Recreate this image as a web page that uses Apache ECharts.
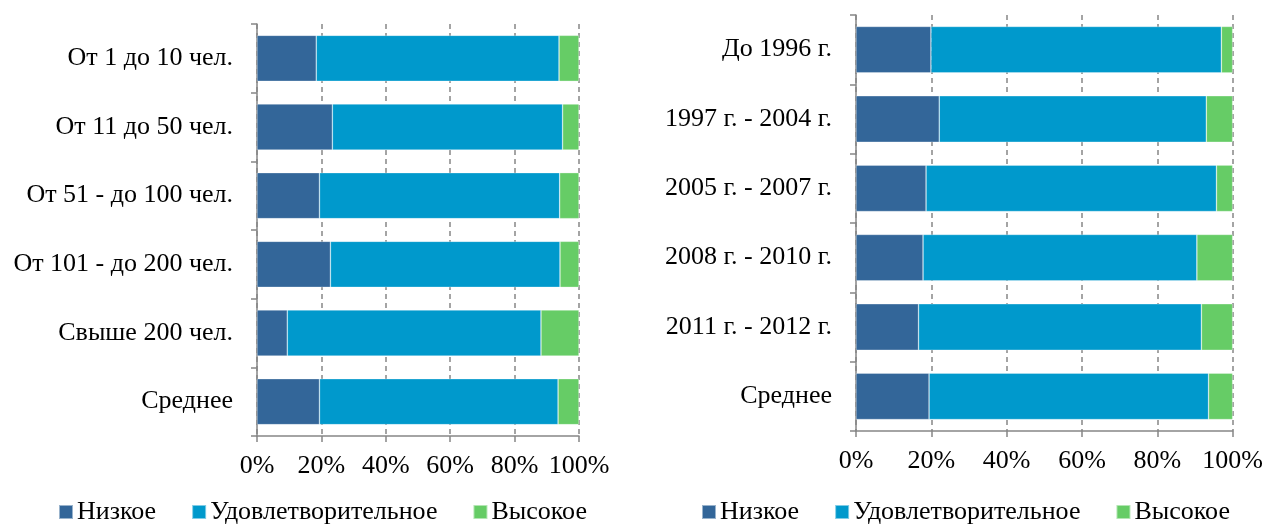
<!DOCTYPE html>
<html>
<head>
<meta charset="utf-8">
<style>
  html, body { margin: 0; padding: 0; background: #fff; }
  #chart-container { width: 1266px; height: 525px; }
</style>
<script src="https://cdn.jsdelivr.net/npm/echarts@6/dist/echarts.min.js"></script>
</head>
<body>
<div id="chart-container"></div>
<script>
// данные (в процентах)
var seriesNames = ['Низкое', 'Удовлетворительное', 'Высокое'];

var sizeCategories = ['От 1 до 10 чел.', 'От 11 до 50 чел.', 'От 51 - до 100 чел.', 'От 101 - до 200 чел.', 'Свыше 200 чел.', 'Среднее'];
var sizeLow = [18.4, 23.4, 19.4, 22.8, 9.4, 19.4];
var sizeMid = [75.4, 71.5, 74.6, 71.3, 78.8, 74.1];
var sizeHigh = [6.2, 5.1, 6.0, 5.9, 11.8, 6.5];

var yearCategories = ['До 1996 г.', '1997 г. - 2004 г.', '2005 г. - 2007 г.', '2008 г. - 2010 г.', '2011 г. - 2012 г.', 'Среднее'];
var yearLow = [19.9, 22.1, 18.6, 17.8, 16.6, 19.4];
var yearMid = [77.1, 70.9, 77.1, 72.7, 75.1, 74.2];
var yearHigh = [3.0, 7.0, 4.3, 9.5, 8.3, 6.4];

var colors = ['#336699', '#0099cc', '#66cc66'];

var dom = document.getElementById('chart-container');
var myChart = echarts.init(dom, null, { renderer: 'canvas' });

var font = 'Liberation Serif';
var axisGray = '#868686';

function xAxisFor(gridIndex) {
  return {
    gridIndex: gridIndex,
    type: 'value',
    min: 0,
    max: 100,
    interval: 20,
    axisLine: { show: true, lineStyle: { color: axisGray, width: 1.5 } },
    axisTick: { show: true, length: 6, lineStyle: { color: axisGray, width: 1.5 } },
    axisLabel: {
      formatter: '{value}%',
      color: '#000',
      fontFamily: font,
      fontSize: 26,
      margin: 17
    },
    splitLine: { show: true, lineStyle: { color: axisGray, type: [5, 4], width: 1.5 } }
  };
}

function yAxisFor(gridIndex, cats) {
  return {
    gridIndex: gridIndex,
    type: 'category',
    inverse: true,
    data: cats,
    axisLine: { show: true, lineStyle: { color: axisGray, width: 1.5 } },
    axisTick: { show: true, length: 6, lineStyle: { color: axisGray, width: 1.5 } },
    axisLabel: {
      color: '#000',
      fontFamily: font,
      fontSize: 26,
      margin: 24
    }
  };
}

function barSeries(name, idx, axisIndex, data) {
  return {
    name: name,
    type: 'bar',
    stack: 'total' + axisIndex,
    xAxisIndex: axisIndex,
    yAxisIndex: axisIndex,
    barCategoryGap: '33%',
    itemStyle: { color: colors[idx], borderColor: 'rgba(255,255,255,0.5)', borderWidth: 0.6 },
    data: data
  };
}

function legendFor(left) {
  return {
    data: seriesNames,
    left: left,
    top: 499,
    padding: 0,
    itemWidth: 14,
    itemHeight: 14,
    itemGap: 35,
    icon: 'rect',
    textStyle: { color: '#000', fontFamily: font, fontSize: 26, padding: [0, 0, 0, -1] }
  };
}

var option = {
  animation: false,
  textStyle: { fontFamily: font },
  color: colors,
  legend: [legendFor(58), legendFor(701)],
  grid: [
    { left: 257, right: 687, top: 24, bottom: 89 },
    { left: 856, right: 33, top: 15, bottom: 94 }
  ],
  xAxis: [xAxisFor(0), xAxisFor(1)],
  yAxis: [yAxisFor(0, sizeCategories), yAxisFor(1, yearCategories)],
  series: [
    barSeries(seriesNames[0], 0, 0, sizeLow),
    barSeries(seriesNames[1], 1, 0, sizeMid),
    barSeries(seriesNames[2], 2, 0, sizeHigh),
    barSeries(seriesNames[0], 0, 1, yearLow),
    barSeries(seriesNames[1], 1, 1, yearMid),
    barSeries(seriesNames[2], 2, 1, yearHigh)
  ]
};

myChart.setOption(option);
window.addEventListener('resize', myChart.resize);
</script>
</body>
</html>
